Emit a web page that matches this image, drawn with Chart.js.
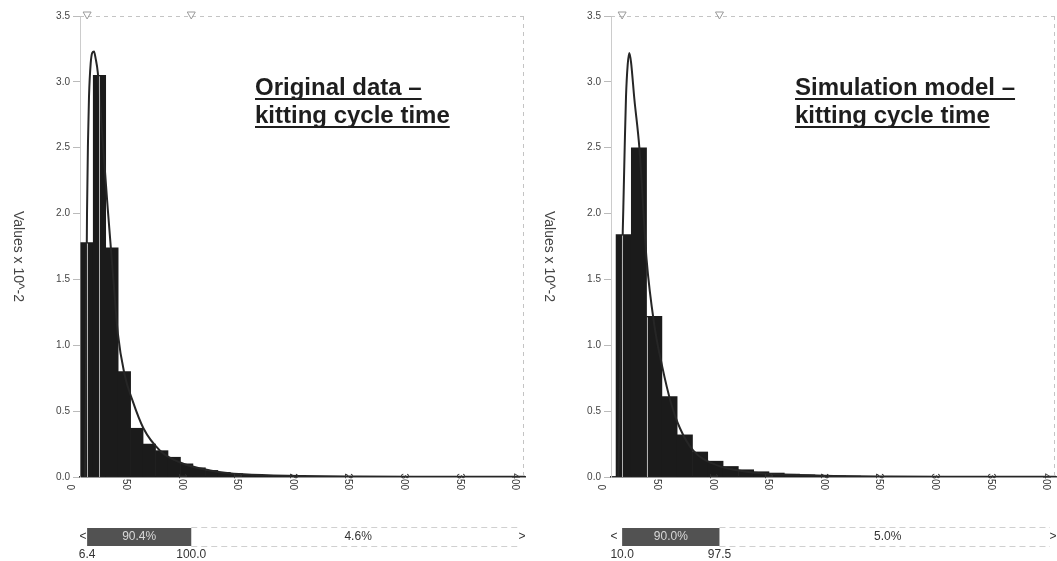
<!DOCTYPE html>
<html>
<head>
<meta charset="utf-8">
<script src="https://cdn.jsdelivr.net/npm/chart.js@4.4.1/dist/chart.umd.min.js"></script>
<style>
  html, body { margin: 0; padding: 0; background: #fff; }
  #wrap { position: relative; width: 1057px; height: 561px; overflow: hidden; }
  .panel { position: absolute; top: 0; height: 561px; }
  #left { left: 0; width: 531px; }
  #right { left: 531px; width: 526px; }
</style>
</head>
<body>
<div id="wrap">
  <div class="panel" id="left"><canvas id="origChart"></canvas></div>
  <div class="panel" id="right"><canvas id="simChart"></canvas></div>
</div>
<script>
const FONT = "'Liberation Sans', Arial, sans-serif";

// Original data: histogram bins (mid points) and heights, values x 10^-2
const origBinMid = [6.3, 17.5, 28.7, 39.9, 51.1, 62.3, 73.5, 84.7, 95.9, 107.1, 118.3, 129.5,
  140.7, 151.9, 163.1, 174.3, 185.5, 196.7, 207.9, 219.1, 230.3, 241.5, 252.7, 263.9, 275.1,
  286.3, 297.5, 308.7, 319.9, 331.1, 342.3, 353.5, 364.7, 375.9, 387.1];
const origBinHeight = [1.78, 3.05, 1.74, 0.80, 0.37, 0.25, 0.20, 0.15, 0.10, 0.07, 0.05, 0.035,
  0.025, 0.018, 0.013, 0.010, 0.008, 0.006, 0.005, 0.004, 0.003, 0.003, 0.002, 0.002, 0.002,
  0.001, 0.001, 0.001, 0.001, 0.001, 0.001, 0.001, 0.001, 0.001, 0.001];
// fitted density for the original data
const origCurveX = [4.5, 5.2, 5.8, 6.3, 7.2, 8.1, 9.6, 11, 12.6, 14, 16, 20, 25, 30, 34, 40, 47,
  57, 72, 90, 117, 147, 200, 250, 300, 350, 400];
const origCurveY = [0, 0.6, 1.4, 2.0, 2.55, 2.89, 3.14, 3.22, 3.23, 3.18, 3.07, 2.6, 2.03, 1.5,
  1.09, 0.78, 0.585, 0.37, 0.2, 0.11, 0.05, 0.02, 0.008, 0.004, 0.002, 0.0015, 0.001];
const origDelims = [6.4, 100.0];
const origShares = [90.4, 4.6];
const origGuides = [6.4, 17.5];

// Simulation model output
const simBinMid = [11.4, 25.1, 38.9, 52.6, 66.4, 80.1, 93.9, 107.6, 121.4, 135.1, 148.9, 162.6,
  176.4, 190.1, 203.9, 217.6, 231.4, 245.1, 258.9, 272.6, 286.4, 300.1, 313.9, 327.6, 341.4,
  355.1, 368.9, 382.6, 396.4];
const simBinHeight = [1.84, 2.50, 1.22, 0.61, 0.32, 0.19, 0.12, 0.08, 0.055, 0.04, 0.03, 0.022,
  0.016, 0.012, 0.009, 0.007, 0.005, 0.004, 0.003, 0.003, 0.002, 0.002, 0.002, 0.001, 0.001,
  0.001, 0.001, 0.001, 0.001];
const simCurveX = [6.5, 7.5, 8.5, 9.6, 11.1, 12.3, 13.5, 15, 16.5, 18, 21, 25.5, 32, 39, 46, 54,
  62, 74, 95, 122, 150, 200, 250, 300, 350, 400];
const simCurveY = [0, 0.35, 0.9, 1.5, 2.05, 2.5, 2.89, 3.13, 3.22, 3.15, 2.87, 2.5, 1.65, 1.15,
  0.84, 0.56, 0.37, 0.2, 0.09, 0.04, 0.02, 0.008, 0.004, 0.002, 0.0015, 0.001];
const simDelims = [10.0, 97.5];
const simShares = [90.0, 5.0];
const simGuides = [10.0, 32.0];

// extra drawing: titles, rotated labels, delimiter markers and the band under the axis
const panelDecor = {
  id: "panelDecor",
  afterDatasetsDraw(chart, args, o) {
    const { ctx, chartArea: { bottom } } = chart;
    const xs = chart.scales.x;
    const barMeta = chart.getDatasetMeta(1);
    ctx.save();
    ctx.strokeStyle = "rgba(215,215,215,0.8)";
    ctx.lineWidth = 1;
    o.guides.forEach(v => {
      const px = Math.round(xs.getPixelForValue(v)) + 0.5;
      const bar = barMeta.data.find(b => px >= b.x - b.width / 2 && px <= b.x + b.width / 2);
      if (!bar) return;
      ctx.beginPath();
      ctx.moveTo(px, bar.y + 1);
      ctx.lineTo(px, bottom);
      ctx.stroke();
    });
    ctx.restore();
  },
  afterDraw(chart, args, o) {
    const { ctx, chartArea: { left, right, top, bottom } } = chart;
    const xs = chart.scales.x;
    const d0 = xs.getPixelForValue(o.delims[0]);
    const d1 = xs.getPixelForValue(o.delims[1]);
    ctx.save();

    // dashed top line and right edge
    ctx.strokeStyle = "#c4c4c4";
    ctx.lineWidth = 1;
    ctx.setLineDash([4, 4]);
    ctx.beginPath();
    ctx.moveTo(left, top + 0.5);
    ctx.lineTo(right, top + 0.5);
    ctx.moveTo(right - 1.5, top);
    ctx.lineTo(right - 1.5, bottom);
    ctx.stroke();
    ctx.setLineDash([]);

    // delimiter markers on the top line
    ctx.strokeStyle = "#9a9a9a";
    [d0, d1].forEach(px => {
      ctx.beginPath();
      ctx.moveTo(px - 4, top - 4);
      ctx.lineTo(px + 4, top - 4);
      ctx.lineTo(px, top + 3);
      ctx.closePath();
      ctx.stroke();
    });

    // x tick labels, turned clockwise
    ctx.fillStyle = "#333";
    ctx.font = `10px ${FONT}`;
    ctx.textAlign = "right";
    ctx.textBaseline = "middle";
    xs.ticks.forEach(t => {
      const px = xs.getPixelForValue(t.value);
      ctx.save();
      ctx.translate(px - 10, bottom + 13);
      ctx.rotate(Math.PI / 2);
      ctx.fillText(String(t.value), 0, 0);
      ctx.restore();
    });

    // y axis title
    ctx.save();
    ctx.translate(left - 62, (top + bottom) / 2 + 10);
    ctx.rotate(Math.PI / 2);
    ctx.font = `14px ${FONT}`;
    ctx.fillStyle = "#444";
    ctx.textAlign = "center";
    ctx.fillText(o.yTitle, 0, 0);
    ctx.restore();

    // underlined title
    ctx.font = `bold 24px ${FONT}`;
    ctx.fillStyle = "#1e1e1e";
    ctx.textAlign = "left";
    ctx.textBaseline = "alphabetic";
    o.title.forEach((line, i) => {
      const tx = left + o.titleX;
      const ty = 95 + i * 28;
      ctx.fillText(line, tx, ty);
      ctx.fillRect(tx, ty + 3, ctx.measureText(line).width, 2);
    });

    // delimiter band
    const by = bottom + 51, bh = 18, mid = by + bh / 2;
    ctx.fillStyle = "#525252";
    ctx.fillRect(d0, by, d1 - d0, bh);
    ctx.strokeStyle = "#d0d0d0";
    ctx.setLineDash([6, 4]);
    ctx.beginPath();
    ctx.moveTo(d1, by - 0.5);
    ctx.lineTo(right - 6, by - 0.5);
    ctx.moveTo(d1, by + bh + 0.5);
    ctx.lineTo(right - 6, by + bh + 0.5);
    ctx.stroke();
    ctx.setLineDash([]);

    ctx.font = `12px ${FONT}`;
    ctx.textAlign = "center";
    ctx.textBaseline = "middle";
    ctx.fillStyle = "#d8d8d8";
    ctx.fillText(o.shares[0].toFixed(1) + "%", (d0 + d1) / 2, mid);
    ctx.fillStyle = "#333";
    ctx.fillText(o.shares[1].toFixed(1) + "%", (d1 + right) / 2, mid);
    ctx.fillText("<", left + 3, mid);
    ctx.fillText(">", right - 3, mid);
    ctx.fillText(o.delims[0].toFixed(1), d0, by + bh + 9);
    ctx.fillText(o.delims[1].toFixed(1), d1, by + bh + 9);

    ctx.restore();
  }
};

function buildChart(canvasId, binMid, binHeight, curveX, curveY, decor, padRight) {
  const bars = binMid.map((x, i) => ({ x, y: binHeight[i] }));
  const curve = curveX.map((x, i) => ({ x, y: curveY[i] }));
  return new Chart(document.getElementById(canvasId), {
    type: "bar",
    data: {
      datasets: [
        {
          type: "line",
          data: curve,
          borderColor: "#262626",
          borderWidth: 2,
          pointRadius: 0,
          cubicInterpolationMode: "monotone",
          order: 0,
        },
        {
          type: "bar",
          data: bars,
          backgroundColor: "#1b1b1b",
          borderWidth: 0,
          barPercentage: 1,
          categoryPercentage: 1,
          order: 1,
        },
      ],
    },
    options: {
      responsive: true,
      maintainAspectRatio: false,
      animation: false,
      layout: { padding: { top: 16, right: padRight, left: 0, bottom: 0 } },
      plugins: {
        legend: { display: false },
        tooltip: { enabled: false },
        panelDecor: decor,
      },
      scales: {
        x: {
          type: "linear",
          min: 0,
          max: 400,
          offset: false,
          ticks: { display: false, stepSize: 50 },
          grid: { display: false },
          border: { color: "#333", width: 1.5 },
          afterFit: (s) => { s.height = 84; },
        },
        y: {
          min: 0,
          max: 3.5,
          ticks: {
            stepSize: 0.5,
            callback: (v) => v.toFixed(1),
            font: { size: 10, family: FONT },
            color: "#444",
            padding: 3,
          },
          grid: { drawOnChartArea: false, tickLength: 7, color: "#bbb" },
          border: { color: "#ccc", dash: [3, 3] },
          afterFit: (s) => { s.width = 80; },
        },
      },
    },
    plugins: [panelDecor],
  });
}

buildChart("origChart", origBinMid, origBinHeight, origCurveX, origCurveY, {
  title: ["Original data \u2013", "kitting cycle time"],
  titleX: 175,
  yTitle: "Values x 10^-2",
  delims: origDelims,
  shares: origShares,
  guides: origGuides,
}, 6);

buildChart("simChart", simBinMid, simBinHeight, simCurveX, simCurveY, {
  title: ["Simulation model \u2013", "kitting cycle time"],
  titleX: 184,
  yTitle: "Values x 10^-2",
  delims: simDelims,
  shares: simShares,
  guides: simGuides,
}, 1);
</script>
</body>
</html>
